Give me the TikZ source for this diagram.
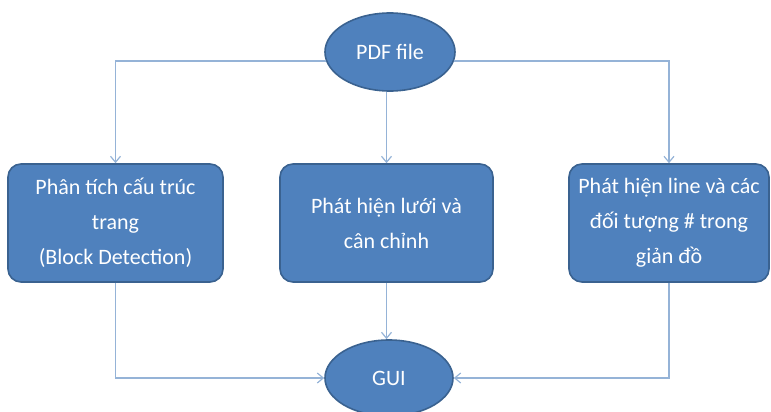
\documentclass[tikz,border=0pt]{standalone}
\usepackage{fontspec}
\setmainfont{Carlito}
\usetikzlibrary{shapes.geometric,arrows.meta}
\definecolor{boxfill}{HTML}{4F81BD}
\definecolor{boxedge}{HTML}{3A6290}
\definecolor{connc}{HTML}{95B3D7}
\tikzset{
  oval/.style={ellipse,fill=boxfill,draw=boxedge,line width=1.6pt,text=white,font=\fontsize{22}{26}\selectfont,inner sep=0pt},
  procbox/.style={rectangle,rounded corners=13pt,fill=boxfill,draw=boxedge,line width=1.6pt,text=white,align=center,font=\fontsize{22}{35}\selectfont,inner sep=0pt,minimum height=118pt},
  conn/.style={draw=connc,line width=1.2pt,-{Straight Barb[length=6pt,width=10pt]}}
}
\begin{document}
\begin{tikzpicture}[x=1pt,y=-1pt]
\useasboundingbox (0,0) rectangle (771,412);
\node[oval,minimum width=130pt,minimum height=78pt] (pdf) at (390,52) {PDF file};
\node[oval,minimum width=128pt,minimum height=76pt] (gui) at (389,378) {GUI};
\node[procbox,minimum width=215pt] (b1) at (115.5,223) {Phân tích cấu trúc\\trang\\(Block Detection)};
\node[procbox,minimum width=213pt] (b2) at (386.5,223) {Phát hiện lưới và\\cân chỉnh};
\node[procbox,minimum width=200pt] (b3) at (669,223) {Phát hiện line và các\\đối tượng \# trong\\giản đồ};
\draw[conn] (pdf.188) -| (b1.north);
\draw[conn] (pdf.-8) -| (b3.north);
\draw[conn] (b2.north |- pdf.south) -- (b2.north);
\draw[conn] (b1.south) |- (gui.west);
\draw[conn] (b3.south) |- (gui.east);
\draw[conn] (b2.south) -- (b2.south |- gui.north);
\end{tikzpicture}
\end{document}
